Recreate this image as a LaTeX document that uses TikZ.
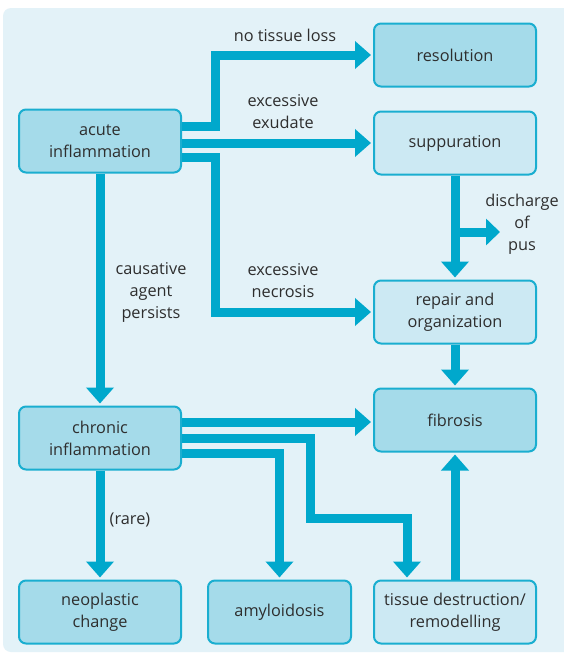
\documentclass[tikz,border=0pt]{standalone}
\usepackage{fontspec}
\setmainfont{Open Sans}
\usetikzlibrary{arrows.meta}
\definecolor{bgc}{HTML}{E3F2F8}
\definecolor{edgec}{HTML}{1AAED0}
\definecolor{arrc}{HTML}{00A8CC}
\definecolor{darkf}{HTML}{A5DBEA}
\definecolor{lightf}{HTML}{CCE9F3}
\definecolor{txt}{HTML}{2E2E2E}
\tikzset{
  box/.style={draw=edgec, line width=2pt, rounded corners=7pt, minimum width=162pt, minimum height=63pt, align=center, text=txt, font=\fontsize{16.3}{22}\selectfont, inner sep=2pt},
  dark/.style={box, fill=darkf},
  light/.style={box, fill=lightf},
  arr/.style={draw=arrc, line width=9pt, line join=miter, -{Triangle[width=27pt,length=16pt]}, shorten >=2pt},
  lbl/.style={text=txt, align=center, font=\fontsize{16.3}{22}\selectfont, inner sep=0pt}
}
\begin{document}
\begin{tikzpicture}[x=1pt,y=-1pt]
\useasboundingbox (0,0) rectangle (563,654);
\fill[white] (0,0) rectangle (563,654);
\fill[bgc, rounded corners=8pt] (3,8) rectangle (575,652);
% nodes
\node[dark]  (acute) at (100,141) {acute\\inflammation};
\node[dark]  (res)   at (455,55)  {resolution};
\node[light] (supp)  at (455,143) {suppuration};
\node[light] (rep)   at (455,312) {repair and\\organization};
\node[dark]  (fib)   at (455,420) {fibrosis};
\node[dark]  (chr)   at (100,438) {chronic\\inflammation};
\node[dark]  (neo)   at (100,612) {neoplastic\\change};
\node[dark, minimum width=143pt]  (amy)   at (279.5,612) {amyloidosis};
\node[light] (tis)   at (455,612) {tissue destruction/\\remodelling};
% coordinates
\coordinate (ja) at (215,0);
\coordinate (jb) at (310,518);
\coordinate (jc) at (407,0);
\coordinate (pus) at (500,232);
% arrows
\draw[arr] (acute.east |- 0,126) -| (ja |- res.west) -- (res.west);
\draw[arr] (acute.east |- supp.west) -- (supp.west);
\draw[arr] (acute.east |- 0,157) -| (ja |- rep.west) -- (rep.west);
\draw[arr] (acute.south) -- (chr.north);
\draw[arr] (supp.south) -- (rep.north);
\draw[arr, -{Triangle[width=26pt,length=14pt]}, shorten >=0pt] (supp.south |- pus) -- (pus);
\draw[arr] (rep.south) -- (fib.north);
\draw[arr] (chr.east |- 0,422) -- (fib.west |- 0,422);
\draw[arr] (chr.east) -| (jb) -| (jc |- tis.north);
\draw[arr] (chr.east |- 0,453) -| (amy.north);
\draw[arr] (chr.south) -- (neo.north);
\draw[arr] (tis.north) -- (fib.south);
% labels
\node[lbl] (l1) at (285,35) {no tissue loss};
\node[lbl] (l2) at (283,112) {excessive\\exudate};
\node[lbl] (l3) at (522,224) {discharge\\of\\pus};
\node[lbl] (l4) at (151,292) {causative\\agent\\persists};
\node[lbl] (l5) at (283,281) {excessive\\necrosis};
\node[lbl] (l6) at (130,520) {(rare)};
\end{tikzpicture}
\end{document}
